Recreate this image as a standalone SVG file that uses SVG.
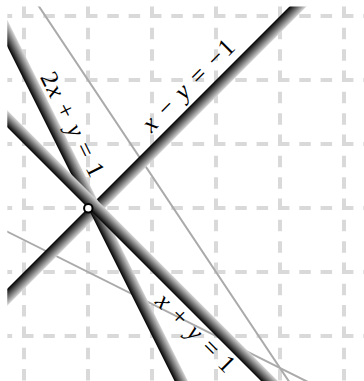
<svg xmlns="http://www.w3.org/2000/svg" width="364" height="381" viewBox="0 0 364 381">
<style>
.grid line{stroke:#d9d9d9;stroke-width:4;stroke-dasharray:11.5 9.83;fill:none}
.grid .h{stroke-dashoffset:6.67}
.thin{stroke:#aaaaaa;stroke-width:2;fill:none}
.lbl{font-family:"Liberation Serif","Times New Roman",serif;font-size:25px;fill:#000}
.it{font-style:italic}
</style>
<defs>
<clipPath id="clip"><rect x="7.3" y="6.5" width="360" height="380"/></clipPath>
<linearGradient id="gA" gradientUnits="userSpaceOnUse" x1="88" y1="208" x2="96.49" y2="216.49"><stop offset="0" stop-color="#000"/><stop offset="1" stop-color="#d8d8d8"/></linearGradient>
<linearGradient id="gB" gradientUnits="userSpaceOnUse" x1="88" y1="208" x2="98.73" y2="202.63"><stop offset="0" stop-color="#000"/><stop offset="1" stop-color="#d8d8d8"/></linearGradient>
<linearGradient id="gC" gradientUnits="userSpaceOnUse" x1="88" y1="208" x2="96.49" y2="199.51"><stop offset="0" stop-color="#000"/><stop offset="1" stop-color="#d8d8d8"/></linearGradient>
</defs>
<g class="grid">
<line x1="24" y1="6.5" x2="24" y2="385"/>
<line x1="88" y1="6.5" x2="88" y2="385"/>
<line x1="152" y1="6.5" x2="152" y2="385"/>
<line x1="216" y1="6.5" x2="216" y2="385"/>
<line x1="280" y1="6.5" x2="280" y2="385"/>
<line x1="344" y1="6.5" x2="344" y2="385"/>
<line class="h" x1="7.33" y1="16" x2="364" y2="16"/>
<line class="h" x1="7.33" y1="80" x2="364" y2="80"/>
<line class="h" x1="7.33" y1="144" x2="364" y2="144"/>
<line class="h" x1="7.33" y1="208" x2="364" y2="208"/>
<line class="h" x1="7.33" y1="272" x2="364" y2="272"/>
<line class="h" x1="7.33" y1="336" x2="364" y2="336"/>
</g>
<g id="connectors" clip-path="url(#clip)">
<line id="l-x2y1" class="thin" x1="-12" y1="222" x2="388" y2="422"/>
<line id="l-3x2y6" class="thin" x1="32" y1="-4" x2="298" y2="395"/>
<polygon id="band-xmy" points="-12,308 388,-92 396.49,-83.51 -3.51,316.49" fill="url(#gA)"/>
<polygon id="band-2xy" points="-32,-32 188,408 198.73,402.63 -21.27,-37.37" fill="url(#gB)"/>
<polygon id="band-xy" points="-12,108 288,408 296.49,399.51 -3.51,99.51" fill="url(#gC)"/>
</g>
<g id="label-xmy"><text class="lbl" transform="translate(194,91) rotate(-45)" text-anchor="middle" textLength="120" lengthAdjust="spacing"><tspan class="it">x</tspan> − <tspan class="it">y</tspan> = −1</text></g>
<g id="label-2xy"><text class="lbl" transform="translate(65.3,128) rotate(63.43)" text-anchor="middle" textLength="114" lengthAdjust="spacing">2<tspan class="it">x</tspan> + <tspan class="it">y</tspan> = 1</text></g>
<g id="label-xy"><text class="lbl" transform="translate(190,338.4) rotate(45)" text-anchor="middle" textLength="101" lengthAdjust="spacing"><tspan class="it">x</tspan> + <tspan class="it">y</tspan> = 1</text></g>
<g id="point"><circle cx="88.3" cy="208.2" r="4.2" fill="#fff" stroke="#000" stroke-width="2"/></g>
</svg>
